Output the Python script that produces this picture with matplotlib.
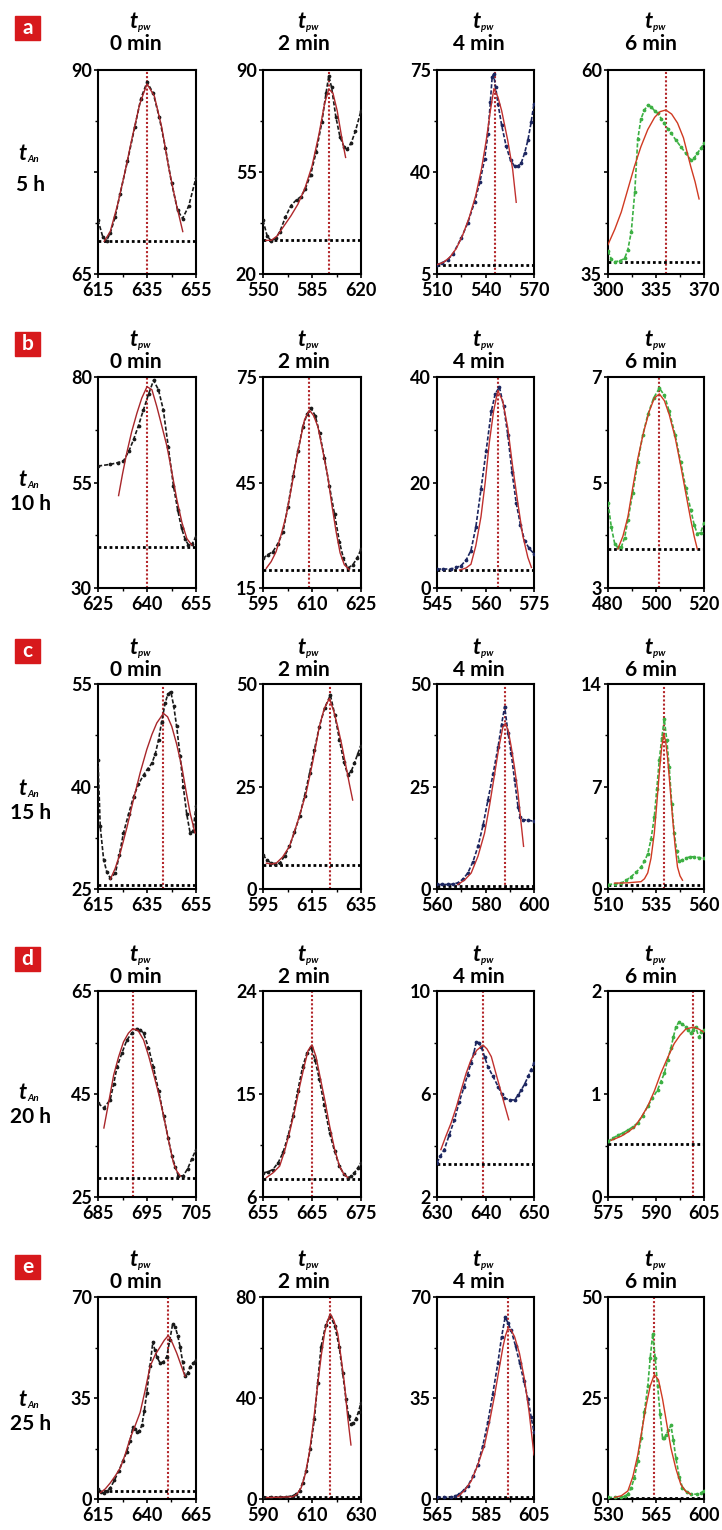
import matplotlib
matplotlib.use("Agg")
from matplotlib import pyplot as plt
from matplotlib.patches import Rectangle
from matplotlib.ticker import AutoMinorLocator

plt.rcParams["font.family"] = ["Lato", "DejaVu Sans"]
plt.rcParams["font.weight"] = "bold"

row_letters = ["a", "b", "c", "d", "e"]
anneal_times = ["5 h", "10 h", "15 h", "20 h", "25 h"]
pw_times = ["0 min", "2 min", "4 min", "6 min"]

x_limits = [
    [(615, 655), (550, 620), (510, 570), (300, 370)],
    [(625, 655), (595, 625), (545, 575), (480, 520)],
    [(615, 655), (595, 635), (560, 600), (510, 560)],
    [(685, 705), (655, 675), (630, 650), (575, 605)],
    [(615, 665), (590, 630), (565, 605), (530, 600)],
]
y_limits = [
    [(65, 90), (20, 90), (5, 75), (35, 60)],
    [(30, 80), (15, 75), (0, 40), (3, 7)],
    [(25, 55), (0, 50), (0, 50), (0, 14)],
    [(25, 65), (6, 24), (2, 10), (0, 2)],
    [(0, 70), (0, 80), (0, 70), (0, 50)],
]
peak_x = [
    [635, 597, 545.6, 342.2],
    [640, 609.2, 563.8, 501.4],
    [641.7, 622.5, 588.1, 539],
    [692.1, 665, 639.4, 601.7],
    [650.9, 617.5, 594.2, 563.8],
]
baseline_y = [
    [69, 31.5, 8.2, 36.5],
    [39.8, 20.2, 3.4, 3.74],
    [25.6, 5.9, 0.8, 0.3],
    [28.7, 7.6, 3.3, 0.51],
    [2.6, 0.6, 0.6, 0.3],
]

# ---- row a (5 h) ----
a1_x = [615, 617, 618.5, 620, 622, 624, 627, 630, 632.5, 635, 637.5, 640, 642.5, 645, 647.5, 649.5, 652, 655]
a1_y = [71.6, 69.5, 69.1, 70, 72, 74.8, 78.8, 83, 86.5, 88.5, 87.2, 84.2, 80.5, 76.2, 72.8, 71.8, 73.3, 76.8]
a1_fx = [617.5, 620, 623, 626, 629, 632, 635, 638, 641, 644, 647, 649.6]
a1_fy = [69, 70.2, 73.5, 77.5, 81.8, 85.8, 88.3, 86.8, 83, 77.8, 73.5, 70.2]

a2_x = [550, 553, 556, 559, 562, 566, 570, 574, 577, 580, 584, 588, 592, 595, 597, 599, 602, 605, 608, 610, 613, 616, 620]
a2_y = [38.4, 33, 31.3, 32.2, 34.5, 39.5, 43.5, 45.5, 46.5, 49, 54, 62, 72, 82, 88, 84, 74, 67, 63.5, 62.8, 65, 69, 76]
a2_fx = [552, 556, 560, 565, 570, 575, 580, 585, 590, 594, 597, 600, 603, 606, 609]
a2_fy = [31.5, 31.6, 33, 36.5, 40, 44, 49.5, 57, 68, 78.5, 83.5, 82, 76, 67.5, 60]

a3_x = [510, 513, 516.6, 520, 524.9, 529, 533.2, 536.5, 539.4, 541.5, 543, 544.1, 545, 546.3, 547.7, 550, 552.8, 555.5, 558, 560, 562.1, 564.2, 566.3, 568.2, 570]
a3_y = [8.2, 8.8, 9.9, 12, 17.2, 22.5, 29.6, 36.5, 44.3, 53, 64, 72.5, 73.5, 69, 63.5, 56, 48.8, 44, 42, 42, 43.1, 46.5, 51.1, 57, 63.5]
a3_fx = [510, 514, 518, 522, 526, 530, 534, 537.5, 540.5, 543, 545.2, 547.7, 550, 553.7, 556.8, 559]
a3_fy = [8.2, 9, 10.8, 13.8, 18.5, 24.5, 32, 41, 51, 61, 68.6, 65.7, 61, 51, 40.9, 29.6]

a4_x = [300, 302.5, 304.8, 308.5, 312.1, 314.5, 317, 319.5, 321.7, 324, 326.6, 329, 331.4, 334, 336.3, 339, 341, 343.5, 345.9, 349.5, 353.1, 356.7, 360.3, 362.7, 365.2, 367.6, 370]
a4_y = [37.8, 36.8, 36.5, 36.6, 36.9, 38, 40.2, 45, 51.5, 54, 55.1, 55.7, 55.5, 55, 54.7, 54, 53.5, 52.8, 52.3, 51.4, 50.6, 49.8, 49, 49.2, 49.8, 50.4, 51]
a4_fx = [300, 305, 309.7, 314.5, 319.3, 324, 329, 334, 338, 342.2, 346.4, 350.7, 355, 360.3, 363.5, 366.4]
a4_fy = [38.6, 40.5, 42.6, 45.4, 48.2, 50.6, 52.7, 54.2, 54.9, 55.1, 54.6, 53.5, 51.7, 48.2, 46.3, 44.2]

# ---- row b (10 h) ----
b1_x = [625, 628.8, 631, 632.8, 634.5, 635.9, 637.4, 638.9, 640.5, 642, 643.5, 645, 646.5, 648.1, 649.4, 650.6, 651.7, 652.7, 653.8, 655]
b1_y = [58.9, 59.3, 59.7, 60.1, 62.5, 65.2, 68.5, 72.2, 76, 79.2, 77, 72.2, 63.5, 54.2, 48.5, 44.1, 41.5, 40.2, 40.4, 42.2]
b1_fx = [631.3, 632.5, 633.8, 635.3, 636.9, 638.4, 640, 641.5, 643, 644.5, 646.1, 647.6, 649.1, 650.7, 652.2, 653.7]
b1_fy = [51.9, 57, 62, 67, 71.4, 75, 77.7, 77, 73, 68.5, 63.6, 57.5, 51.1, 45.5, 41.7, 40.2]

b2_x = [595, 596.5, 598, 599.5, 601.1, 602.6, 604.2, 605.7, 607.2, 608.5, 609.7, 611, 612.3, 613.8, 615.3, 616.9, 618.4, 619.6, 620.9, 622.5, 623.8, 625]
b2_y = [23.4, 24.5, 25.3, 27.5, 30.9, 38, 46.9, 54, 60.9, 64.5, 66.1, 64, 59.1, 52, 44.1, 36, 28.1, 23.5, 20.6, 21.6, 23.5, 26]
b2_fx = [596, 597.5, 599, 600.5, 602.1, 603.7, 605.2, 606.5, 607.7, 609.2, 610.5, 611.8, 613.3, 614.8, 616.1, 617.4, 618.6, 619.9, 621.4]
b2_fy = [20.6, 22.5, 25.3, 30, 35.6, 43.5, 51.6, 57.5, 62.8, 65.6, 64, 60.9, 54, 46.9, 38.5, 30.9, 25, 21.6, 20.2]

b3_x = [545, 547, 549.3, 551, 552.4, 554, 555.5, 557, 558.6, 560.2, 561.8, 563, 564.3, 565.6, 566.9, 568.2, 569.5, 570.8, 572.1, 573.5, 575]
b3_y = [3.6, 3.6, 3.6, 3.9, 4.2, 5.3, 7.1, 11.5, 18.7, 26, 33.5, 36.8, 38.1, 34.5, 29, 22, 16.1, 12, 9, 7.5, 6.5]
b3_fx = [552, 554, 555.5, 557, 558.6, 559.9, 561.2, 562.5, 563.8, 565.3, 566.9, 568.4, 570, 571.5, 573.1, 574.2]
b3_fy = [3.4, 3.8, 4.5, 8, 13.5, 20, 27.7, 33.5, 37.4, 35.5, 30.3, 23, 16.1, 10, 5.8, 3.9]

b4_x = [480, 481.4, 482.8, 484.1, 485.5, 486.9, 488.3, 490.3, 492.4, 494.5, 496.6, 499, 501.4, 503.5, 505.5, 508, 510.3, 512.4, 514.5, 515.9, 517.2, 518.6, 520]
b4_y = [4.61, 4.15, 3.84, 3.77, 3.77, 3.95, 4.29, 4.8, 5.39, 5.9, 6.29, 6.6, 6.79, 6.65, 6.35, 5.9, 5.39, 4.9, 4.48, 4.2, 4.03, 4.05, 4.23]
b4_fx = [484.1, 486.2, 488.3, 490.3, 492.4, 494.8, 497.2, 499.3, 501.4, 503.5, 505.5, 508, 510.3, 512.4, 514.5, 515.9, 517.2]
b4_fy = [3.74, 3.98, 4.35, 4.9, 5.45, 5.95, 6.35, 6.6, 6.68, 6.55, 6.29, 5.85, 5.32, 4.8, 4.29, 3.98, 3.74]

# ---- row c (15 h) ----
c1_x = [615, 615.9, 617.3, 618.6, 620, 622.1, 623.7, 625.4, 627.5, 629.5, 631.5, 633.6, 635.3, 637, 638.4, 639.7, 641, 642.4, 643.5, 644.7, 645.9, 647.1, 648.5, 649.8, 651.2, 652.6, 653.8, 655]
c1_y = [43.9, 34.2, 29.3, 27.5, 26.6, 27.3, 30, 33.2, 36, 38.5, 40.3, 41.7, 42.6, 43.4, 44.8, 46.8, 49.5, 52.2, 53.5, 53.9, 51.8, 48.8, 44.5, 40, 36, 33.2, 33.5, 37.1]
c1_fx = [620, 622, 624.1, 626.8, 629.5, 632.2, 634.9, 637, 639, 641.7, 643.4, 645.1, 647.1, 649.2, 651, 652.6, 654.6]
c1_fy = [26.4, 28, 30.3, 34, 38.1, 42, 45.4, 47.6, 49.3, 50.7, 50.2, 48.8, 46.2, 42.9, 39.2, 36.1, 33.2]

c2_x = [595, 596.7, 598.4, 600, 601.8, 603.8, 605.8, 607.8, 609.9, 612, 614, 616, 618, 620.2, 622.5, 624.3, 626.2, 628, 629.6, 631, 632.3, 633.7, 635]
c2_y = [8.35, 7, 6.3, 6.2, 6.3, 8, 10.4, 13.8, 17.7, 22.8, 28.2, 34, 39.6, 44.2, 47.3, 42.5, 36.4, 31, 27.9, 28.7, 30.7, 33, 35]
c2_fx = [596.4, 598.4, 600.4, 603, 605.8, 609.2, 612.6, 615.3, 618, 620, 622.1, 623.8, 625.5, 627.2, 628.9, 630.3, 631.6]
c2_fy = [6.3, 6.1, 6.3, 7.8, 10.4, 16.5, 23.4, 31, 39.6, 44, 46.5, 43.5, 39.6, 35, 29.8, 25.5, 21.7]

c3_x = [560, 562.2, 564.4, 566.5, 568.6, 570.7, 572.7, 574.8, 576.9, 579, 581, 583.1, 585.2, 586.6, 587.9, 589.3, 590.6, 592, 593.4, 594.4, 595.4, 597.5, 600]
c3_y = [1.1, 1.1, 1.1, 1.2, 1.5, 2.4, 3.9, 6.6, 10.4, 15.6, 21.7, 28, 34.7, 40, 44.5, 38, 33.1, 26.5, 20.1, 17.5, 16.9, 16.8, 16.5]
c3_fx = [568.6, 571.4, 574.1, 576.9, 579.6, 581.7, 583.8, 585.5, 587.2, 588.2, 589.4, 590.6, 592, 593.4, 594.6, 595.7]
c3_fy = [1.1, 2.2, 3.9, 8, 13.6, 20.5, 28.2, 34.5, 39.6, 40.4, 38.5, 34.7, 29.5, 23.4, 16.5, 10.4]

c4_x = [510, 513.4, 516.9, 519.5, 522.1, 524.7, 527.2, 529, 530.7, 532.4, 534.1, 535.4, 536.7, 538, 539.3, 540.6, 541.9, 543.2, 544.5, 545.8, 547.1, 548.8, 550.5, 552.6, 554.8, 557.4, 560]
c4_y = [0.3, 0.35, 0.4, 0.6, 0.85, 1.15, 1.5, 1.9, 2.4, 3.4, 4.9, 6.8, 8.8, 10.3, 11.6, 10.2, 8.3, 5.8, 3.8, 2.6, 1.9, 2, 2.1, 2.2, 2.2, 2.15, 2.1]
c4_fx = [513.4, 520, 527.2, 529, 530.7, 532.4, 534.1, 535.4, 536.7, 537.9, 539, 540, 541, 542.3, 543.6, 544.9, 546.2, 547.5, 548.8]
c4_fy = [0.4, 0.42, 0.5, 0.7, 1.1, 2.1, 3.8, 5.8, 7.9, 9.6, 10.6, 10.1, 9, 7, 4.9, 3, 1.5, 0.9, 0.6]

# ---- row d (20 h) ----
d1_x = [685, 686.2, 687.5, 688.2, 688.9, 689.9, 690.9, 691.9, 692.9, 693.6, 694.3, 695.3, 696.3, 697.4, 698.4, 699.3, 700.1, 700.8, 701.4, 702.4, 703.3, 704.1, 705]
d1_y = [43.2, 42.3, 43.9, 47, 50.3, 53, 55.5, 56.8, 57.7, 57.5, 56.8, 54, 50.3, 45.5, 40.7, 36.5, 32.9, 30.8, 29.1, 29.1, 30.5, 32.3, 34.2]
d1_fx = [686.2, 687.2, 688.2, 689.2, 690.2, 691.2, 692.1, 693.2, 694.3, 695.3, 696.3, 697.4, 698.4, 699.4, 700.4, 701.1, 701.8]
d1_fy = [38.4, 43.5, 48.7, 52.2, 55.1, 56.8, 57.7, 57.3, 55.5, 52.5, 49, 45, 40.7, 36, 31.6, 30, 29.1]

d2_x = [655, 656, 657, 658.1, 659.1, 660.1, 661.1, 662.1, 663.1, 664, 664.8, 665.6, 666.5, 667.5, 668.6, 669.6, 670.6, 671.5, 672.3, 673, 673.6, 674.3, 675]
d2_y = [8.1, 8.2, 8.4, 9, 9.9, 11.3, 13.1, 15.3, 17.4, 18.6, 19.1, 18, 16.3, 14, 11.6, 10, 8.7, 8, 7.7, 7.8, 8.1, 8.5, 9]
d2_fx = [655.7, 657, 658.4, 659.4, 660.4, 661.5, 662.5, 663.4, 664.2, 665, 665.8, 666.5, 667.6, 668.6, 669.6, 670.6, 671.5, 672.3]
d2_fy = [7.7, 8.1, 8.7, 10, 11.6, 13.6, 15.7, 17.4, 18.8, 19.3, 18.3, 16.8, 14.5, 12.2, 10.2, 8.7, 8, 7.7]

d3_x = [630, 630.7, 631.5, 632.5, 633.6, 634.6, 635.6, 636.3, 637, 637.6, 638.1, 638.6, 639.1, 639.8, 640.5, 641.5, 642.6, 643.3, 643.9, 645, 646, 646.7, 647.4, 648.1, 648.8, 649.4, 650]
d3_y = [3.33, 3.6, 3.84, 4.4, 5, 5.7, 6.29, 6.75, 7.19, 7.6, 8.03, 8.0, 7.84, 7.45, 7.06, 6.7, 6.29, 6, 5.84, 5.77, 5.77, 5.95, 6.16, 6.4, 6.68, 6.95, 7.19]
d3_fx = [630.8, 631.8, 632.9, 634, 635, 636, 637, 638.2, 639.5, 640.3, 641.2, 642, 642.9, 643.9, 644.8]
d3_fy = [3.84, 4.35, 4.87, 5.5, 6.16, 6.8, 7.32, 7.7, 7.9, 7.75, 7.45, 6.9, 6.29, 5.6, 5]

d4_x = [575, 576.5, 578.1, 579.6, 581.2, 582.7, 584.3, 585.8, 587.4, 588.9, 590.5, 591.5, 592.6, 593.6, 594.7, 595.4, 596.2, 597.2, 598.2, 599.3, 600.1, 600.9, 601.6, 602.4, 603.4, 604.2, 605]
d4_y = [0.54, 0.57, 0.6, 0.62, 0.65, 0.68, 0.72, 0.79, 0.88, 0.96, 1.04, 1.12, 1.2, 1.33, 1.45, 1.55, 1.65, 1.7, 1.68, 1.65, 1.62, 1.59, 1.62, 1.65, 1.55, 1.6, 1.62]
d4_fx = [576, 579.1, 581.2, 583.3, 585.3, 587.4, 589.5, 591.5, 593.6, 595.7, 597.5, 599.3, 601.7, 603.4, 605]
d4_fy = [0.55, 0.59, 0.63, 0.68, 0.77, 0.88, 1.03, 1.2, 1.35, 1.49, 1.57, 1.63, 1.65, 1.63, 1.6]

# ---- row e (25 h) ----
e1_x = [615, 616.5, 617.9, 619.6, 621.3, 623.4, 625.5, 627.6, 629.7, 631.3, 632.8, 633.8, 634.8, 636, 637.4, 638.6, 639.9, 641.5, 643, 644, 645, 646.7, 648.4, 650.1, 651.6, 653.1, 654.5, 655.7, 656.9, 658.2, 659.4, 660.7, 662, 663.5, 665]
e1_y = [3.4, 2.5, 2.2, 2.8, 3.9, 6.5, 9.6, 13, 16.4, 20, 24.9, 24.2, 23.2, 23.5, 25.5, 30.5, 36.9, 46, 54.5, 51.5, 49.3, 47.1, 47.5, 49.3, 55, 60.7, 59.5, 56.5, 52.7, 47.5, 42.5, 43.5, 45.9, 47, 48.2]
e1_fx = [616.2, 618.7, 621.3, 623.8, 626.4, 628.9, 631.4, 634, 636.5, 639, 641.6, 644.2, 646.7, 648.8, 650.9, 653, 655.2, 657.3, 659.4]
e1_fy = [2.2, 3.5, 5.6, 8, 10.8, 15.5, 21, 25.5, 30, 37.5, 46, 50, 52.7, 55, 56.7, 54, 50.5, 46.5, 42.5]

e2_x = [590, 593.4, 596.8, 599.5, 602.2, 603.6, 604.9, 606.2, 607.6, 609.3, 611, 612.3, 613.7, 615.6, 617.5, 619.3, 621.1, 622.5, 623.9, 624.9, 625.9, 626.9, 627.9, 629, 630]
e2_y = [0.6, 0.6, 0.6, 0.8, 1.3, 2, 3.2, 6.5, 11, 20, 31.8, 46, 60.3, 69, 72.6, 68.5, 60.3, 50, 39.5, 33, 29.8, 30, 31.8, 34.5, 38.2]
e2_fx = [591.4, 596.8, 602.2, 603.9, 605.6, 607.3, 609, 610.7, 612.4, 613.8, 615.1, 616.3, 617.5, 619, 620.5, 621.8, 623.2, 624.5, 625.9]
e2_fy = [0.6, 0.7, 0.9, 2, 4.5, 10, 18.8, 31.5, 46, 57, 65.5, 70.5, 73.3, 70.5, 65.5, 56.5, 46, 33, 21.4]

e3_x = [565, 567.9, 570.8, 572.5, 574.2, 576, 577.7, 579.8, 581.8, 583.9, 586, 588, 590.1, 591.6, 593.1, 594.3, 595.6, 597.4, 599.1, 600.8, 602.5, 603.8, 605]
e3_y = [0.6, 0.6, 0.6, 1, 1.7, 3, 4.5, 7.8, 11.9, 18.5, 26.7, 36.5, 47.1, 56, 63, 61, 58.4, 53, 47.1, 41, 34.6, 28.5, 23.2]
e3_fx = [573.6, 576.4, 579.1, 581.9, 584.6, 586.7, 588.7, 590.5, 592.2, 593.2, 594.2, 595.6, 597, 599, 601.1, 603, 605]
e3_fy = [0.8, 3, 6.2, 12, 18.7, 27, 35.7, 44.5, 52.7, 56.5, 59, 58.5, 56.2, 50.5, 41.4, 30, 15.3]

e4_x = [530, 535, 539.7, 542.1, 544.5, 546.9, 549.3, 551.7, 554.1, 556.5, 559, 560.8, 562.6, 564.4, 566.2, 568, 569.8, 571, 572.2, 574, 575.9, 577.7, 579.5, 582, 584.3, 587.3, 590.3, 595.2, 597.6, 600]
e4_y = [0.4, 0.4, 0.4, 0.7, 1.2, 2.8, 5.3, 9.5, 15, 21.5, 27.9, 35, 40.9, 35, 27.9, 21, 15, 15, 15.8, 17, 18.2, 14.5, 10.1, 5.5, 2.8, 1.8, 1.2, 1.2, 1.5, 2]
e4_fx = [534.8, 539.7, 544.5, 548.1, 551.7, 554.7, 557.8, 560.8, 563.8, 566.8, 569.8, 572.9, 575.9, 579.5, 583.1, 586.7, 590.3]
e4_fy = [0.4, 0.8, 2, 5.5, 10.9, 16.9, 23.1, 28, 30.8, 29.5, 24.7, 18.5, 12.6, 7.5, 3.6, 1.9, 1.2]

curves = [
    [(a1_x, a1_y, a1_fx, a1_fy), (a2_x, a2_y, a2_fx, a2_fy), (a3_x, a3_y, a3_fx, a3_fy), (a4_x, a4_y, a4_fx, a4_fy)],
    [(b1_x, b1_y, b1_fx, b1_fy), (b2_x, b2_y, b2_fx, b2_fy), (b3_x, b3_y, b3_fx, b3_fy), (b4_x, b4_y, b4_fx, b4_fy)],
    [(c1_x, c1_y, c1_fx, c1_fy), (c2_x, c2_y, c2_fx, c2_fy), (c3_x, c3_y, c3_fx, c3_fy), (c4_x, c4_y, c4_fx, c4_fy)],
    [(d1_x, d1_y, d1_fx, d1_fy), (d2_x, d2_y, d2_fx, d2_fy), (d3_x, d3_y, d3_fx, d3_fy), (d4_x, d4_y, d4_fx, d4_fy)],
    [(e1_x, e1_y, e1_fx, e1_fy), (e2_x, e2_y, e2_fx, e2_fy), (e3_x, e3_y, e3_fx, e3_fy), (e4_x, e4_y, e4_fx, e4_fy)],
]

# layout, in pixels of the 722 x 1530 image
W, H = 722, 1530
col_left = [98, 263, 437, 608]
col_right = [196, 361, 534, 704]
row_top = [70, 377, 684, 991, 1297]
row_bottom = [274, 588, 889, 1197, 1499]
title_cx = [136, 304, 479, 651]
title_min_base = [50, 368, 676, 983, 1288]
label_t_base = [160, 486, 795, 1099, 1406]
label_h_base = [191, 510, 819, 1123, 1430]
box_top = [16, 332, 639, 947, 1255]

data_colors = ["#1a1a1a", "#1a1a1a", "#1c2660", "#3cb043"]
fit_colors = ["#a8262a", "#b0282b", "#c0302e", "#d03a22"]
box_red = "#d7191c"


def fx(px):
    return px / W


def fy(py):
    return 1 - py / H


def tick_label(v):
    return str(int(v)) if float(v).is_integer() else ""


fig = plt.figure(figsize=(W / 100, H / 100), dpi=100)

for r in range(5):
    # red panel letter
    fig.patches.append(Rectangle((fx(15), fy(box_top[r] + 24)), 25 / W, 24 / H,
                                 transform=fig.transFigure, color=box_red))
    fig.text(fx(27.5), fy(box_top[r] + 12), row_letters[r], color="white",
             fontsize=15, ha="center", va="center", fontweight="bold")
    # annealing time label
    fig.text(fx(26), fy(label_t_base[r]), "t", fontsize=16, style="italic",
             ha="right", va="baseline", fontweight="bold")
    fig.text(fx(27), fy(label_t_base[r] + 2), "An", fontsize=7, style="italic",
             ha="left", va="baseline")
    fig.text(fx(31), fy(label_h_base[r]), anneal_times[r], fontsize=15,
             ha="center", va="baseline", fontweight="bold")

    for c in range(4):
        left, right = col_left[c], col_right[c]
        top, bottom = row_top[r], row_bottom[r]
        ax = fig.add_axes([fx(left), fy(bottom), (right - left) / W, (bottom - top) / H])

        # column title
        t_base = title_min_base[r] - 22
        fig.text(fx(title_cx[c] + 1), fy(t_base), "t", fontsize=16, style="italic",
                 ha="right", va="baseline", fontweight="bold")
        fig.text(fx(title_cx[c] + 2), fy(t_base + 2), "pw", fontsize=7, style="italic",
                 ha="left", va="baseline")
        fig.text(fx(title_cx[c]), fy(title_min_base[r]), pw_times[c], fontsize=15,
                 ha="center", va="baseline", fontweight="bold")

        xd, yd, xf, yf = curves[r][c]
        ax.plot(xd, yd, color=data_colors[c], lw=1.2, ls=(0, (2.5, 1.2)),
                marker="o", ms=1.7, zorder=3)
        ax.plot(xf, yf, color=fit_colors[c], lw=1.0, zorder=4)
        ax.axvline(peak_x[r][c], color="#b3262a", ls=(0, (1, 1)), lw=1.5, zorder=2)
        ax.axhline(baseline_y[r][c], color="black", ls=(0, (1, 1)), lw=2, zorder=2)

        x0, x1 = x_limits[r][c]
        y0, y1 = y_limits[r][c]
        ax.set_xlim(x0, x1)
        ax.set_ylim(y0, y1)
        xt = [x0, (x0 + x1) / 2, x1]
        yt = [y0, (y0 + y1) / 2, y1]
        ax.set_xticks(xt)
        ax.set_xticklabels([tick_label(v) for v in xt])
        ax.set_yticks(yt)
        ax.set_yticklabels([tick_label(v) for v in yt])
        ax.xaxis.set_minor_locator(AutoMinorLocator(2))
        ax.yaxis.set_minor_locator(AutoMinorLocator(2))
        ax.tick_params(which="major", direction="out", length=3, width=1.2,
                       labelsize=13, pad=1.5)
        ax.tick_params(axis="x", which="major", pad=2.5)
        ax.tick_params(which="minor", direction="out", length=2, width=1.0)
        for lab in ax.get_xticklabels() + ax.get_yticklabels():
            lab.set_fontweight("bold")
        for s in ax.spines.values():
            s.set_linewidth(1.5)

fig.savefig("out.png", dpi=100)
